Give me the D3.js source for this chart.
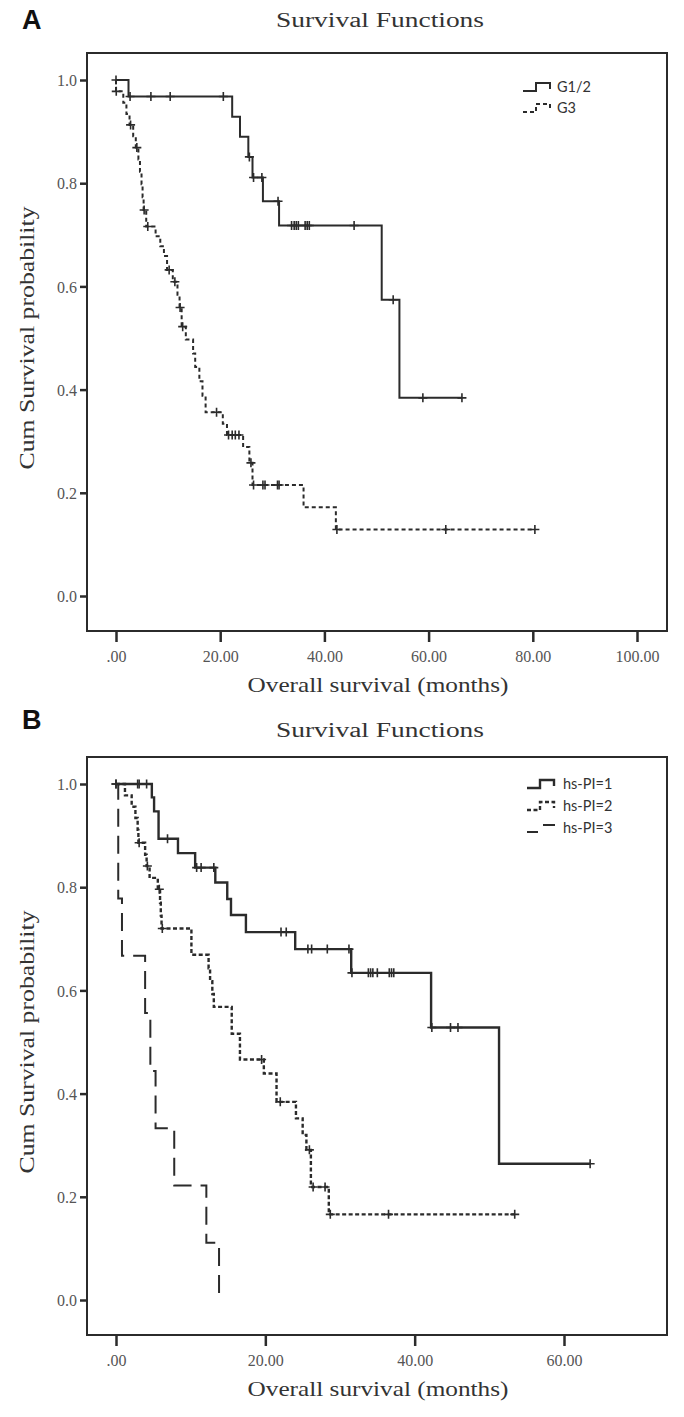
<!DOCTYPE html>
<html><head><meta charset="utf-8">
<script src="https://cdn.jsdelivr.net/npm/d3@7"></script>
<style>html,body{margin:0;padding:0;background:#fff;}svg{display:block;}</style>
</head><body>
<script>
// ---------- DATA ----------
// Panel A
const titleText = "Survival Functions";
const xTitleText = "Overall survival (months)";
const yTitleText = "Cum Survival probability";
const yTickValues = [0, 0.2, 0.4, 0.6, 0.8, 1.0];
const yTickLabels = ["0.0", "0.2", "0.4", "0.6", "0.8", "1.0"];

const xTicksA = [0, 20, 40, 60, 80, 100];
const xTickLabelsA = [".00", "20.00", "40.00", "60.00", "80.00", "100.00"];
const seriesNamesA = ["G1/2", "G3"];

// G1/2: step times and survival after each step, censor times
const g12Times = [2.4, 22.3, 23.8, 25.4, 26.2, 28.2, 31.3, 51.0, 54.4];
const g12Surv  = [0.968, 0.929, 0.890, 0.851, 0.811, 0.765, 0.718, 0.574, 0.384];
const g12Cens  = [0.0, 2.7, 6.7, 10.4, 20.6, 25.6, 26.4, 28.0, 31.1, 33.7, 34.2, 34.6, 35.0, 36.3, 36.7, 37.1, 45.7, 53.2, 58.9, 66.4];

// G3
const g3Times = [0.0, 1.4, 2.0, 2.6, 3.3, 3.8, 4.3, 4.6, 4.9, 5.1, 5.3, 5.8, 7.6, 8.5, 9.2, 9.8, 10.9, 11.8, 12.2, 12.6, 13.4, 14.8, 15.2, 16.0, 16.6, 17.2, 20.5, 21.3, 24.4, 25.6, 26.2, 36.0, 42.2];
const g3Surv  = [0.978, 0.956, 0.934, 0.913, 0.891, 0.869, 0.846, 0.822, 0.798, 0.773, 0.748, 0.716, 0.697, 0.678, 0.659, 0.632, 0.609, 0.584, 0.559, 0.522, 0.497, 0.470, 0.444, 0.416, 0.388, 0.356, 0.334, 0.312, 0.289, 0.258, 0.215, 0.172, 0.129];
const g3Cens  = [0.05, 2.8, 4.0, 5.4, 6.1, 10.2, 11.3, 12.3, 12.8, 19.3, 21.6, 22.3, 22.9, 23.6, 25.9, 26.4, 28.2, 28.6, 31.0, 31.3, 42.4, 63.3, 80.4];

// Panel B
const xTicksB = [0, 20, 40, 60];
const xTickLabelsB = [".00", "20.00", "40.00", "60.00"];
const seriesNamesB = ["hs-PI=1", "hs-PI=2", "hs-PI=3"];

const pi1Times = [4.8, 5.1, 5.7, 8.3, 10.6, 13.3, 14.9, 15.4, 17.4, 24.0, 31.5, 42.2, 51.3];
const pi1Surv  = [0.974, 0.947, 0.894, 0.866, 0.838, 0.809, 0.777, 0.746, 0.713, 0.680, 0.634, 0.528, 0.264];
const pi1Cens  = [0.0, 2.9, 3.1, 4.1, 6.9, 10.8, 11.4, 13.1, 22.1, 22.8, 25.7, 26.2, 28.3, 31.2, 31.6, 33.8, 34.1, 34.4, 35.0, 36.6, 36.9, 37.2, 42.3, 44.8, 45.8, 63.5];

const pi2Times = [1.2, 2.1, 2.6, 2.9, 3.0, 3.9, 4.1, 4.5, 5.6, 5.9, 6.0, 6.1, 10.1, 12.4, 12.6, 12.9, 13.1, 15.5, 16.6, 19.8, 21.5, 24.1, 25.0, 25.5, 26.1, 28.5];
const pi2Surv  = [0.978, 0.956, 0.934, 0.911, 0.886, 0.863, 0.841, 0.818, 0.796, 0.770, 0.745, 0.720, 0.669, 0.643, 0.618, 0.593, 0.568, 0.516, 0.466, 0.439, 0.384, 0.352, 0.320, 0.291, 0.219, 0.166];
const pi2Cens  = [0.0, 3.1, 4.2, 5.8, 6.2, 19.5, 22.0, 25.9, 26.4, 28.0, 28.7, 36.5, 53.4];

const pi3Times = [0.3, 0.8, 3.9, 4.6, 5.3, 7.8, 12.1, 13.8];
const pi3Surv  = [0.778, 0.667, 0.556, 0.444, 0.333, 0.222, 0.111, 0.0];
const pi3Cens  = [];

// ---------- DRAW ----------
const W = 684, H = 1417;
const svg = d3.select("body").append("svg").attr("width", W).attr("height", H);
const serif = "'Liberation Serif', 'DejaVu Serif', serif";
const ink = "#2b2b2b";

function stepPoints(times, surv, cens) {
  const pts = [[0, 1]];
  times.forEach((t, i) => pts.push([t, surv[i]]));
  const last = Math.max(times[times.length - 1], cens.length ? d3.max(cens) : 0);
  pts.push([last, surv[surv.length - 1]]);
  return pts;
}
function survAt(times, surv, t) {
  let s = 1;
  times.forEach((tt, i) => { if (t >= tt) s = surv[i]; });
  return s;
}

function panel(cfg) {
  const oy = cfg.oy;
  const g = svg.append("g");
  const x = d3.scaleLinear().domain(cfg.xDomain).range(cfg.xRange);
  const y = d3.scaleLinear().domain([0, 1]).range([596 + oy, 80 + oy]);
  const frame = {x0: 87, x1: 667, y0: 53 + oy, y1: 631 + oy};

  // panel letter
  g.append("text").attr("x", 22).attr("y", 29 + oy + cfg.letterDy)
    .attr("font-family", "'Liberation Sans', Arial, sans-serif").attr("font-weight", "bold")
    .attr("font-size", 27).attr("fill", "#111").text(cfg.letter);
  // title
  g.append("text").attr("x", 380).attr("y", 27 + oy + cfg.titleDy).attr("text-anchor", "middle")
    .attr("font-family", serif).attr("font-size", 20).attr("fill", "#333")
    .attr("textLength", 208).attr("lengthAdjust", "spacingAndGlyphs").text(titleText);

  // frame
  g.append("rect").attr("x", frame.x0).attr("y", frame.y0)
    .attr("width", frame.x1 - frame.x0).attr("height", frame.y1 - frame.y0)
    .attr("fill", "none").attr("stroke", ink).attr("stroke-width", 2);

  // y axis
  const yAxis = d3.axisLeft(y).tickValues(yTickValues)
    .tickFormat((d, i) => yTickLabels[i]).tickSize(7).tickPadding(3);
  const ya = g.append("g").attr("transform", `translate(${frame.x0},0)`).call(yAxis);
  ya.select(".domain").remove();
  ya.selectAll(".tick line").attr("stroke", ink).attr("stroke-width", 2.5);
  ya.selectAll(".tick text").attr("font-family", serif).attr("font-size", 16)
    .attr("fill", "#555").attr("dy", "0.35em");

  // x axis
  const xAxis = d3.axisBottom(x).tickValues(cfg.xTicks)
    .tickFormat((d, i) => cfg.xTickLabels[i]).tickSize(11).tickPadding(9);
  const xa = g.append("g").attr("transform", `translate(0,${frame.y1})`).call(xAxis);
  xa.select(".domain").remove();
  xa.selectAll(".tick line").attr("stroke", ink).attr("stroke-width", 2.5);
  xa.selectAll(".tick text").attr("font-family", serif).attr("font-size", 16).attr("fill", "#555");

  // axis titles
  g.append("text").attr("x", 378).attr("y", 692 + oy).attr("text-anchor", "middle")
    .attr("font-family", serif).attr("font-size", 21).attr("fill", "#333")
    .attr("textLength", 261).attr("lengthAdjust", "spacingAndGlyphs").text(xTitleText);
  g.append("text").attr("transform", `translate(34,${338 + oy}) rotate(-90)`).attr("text-anchor", "middle")
    .attr("font-family", serif).attr("font-size", 21).attr("fill", "#333")
    .attr("textLength", 263).attr("lengthAdjust", "spacingAndGlyphs").text(yTitleText);

  // curves
  const line = d3.line().x(d => x(d[0])).y(d => y(d[1])).curve(d3.curveStepAfter);
  cfg.series.forEach(s => {
    const pts = stepPoints(s.times, s.surv, s.cens);
    g.append("path").attr("d", line(pts)).attr("fill", "none").attr("stroke", ink)
      .attr("stroke-width", s.width).attr("stroke-dasharray", s.dash);
    s.cens.forEach(t => {
      const cx = x(t), cy = y(survAt(s.times, s.surv, t));
      g.append("path").attr("d", `M${cx},${cy - 4.5}V${cy + 4.5}M${cx - 4.5},${cy}H${cx + 4.5}`)
        .attr("stroke", ink).attr("stroke-width", 1.6).attr("fill", "none");
    });
  });

  // legend
  cfg.legend.forEach((L, i) => {
    const ly = cfg.legendY + oy + i * cfg.legendGap;
    const lx = cfg.legendX;
    let d;
    if (L.kind === "long") d = `M${lx},${ly + 4}H${lx + 11}M${lx + 16},${ly - 3}H${lx + 28}`;
    else d = `M${lx},${ly + 4}H${lx + 13}V${ly - 4}H${lx + 27}V${ly + 2}`;
    g.append("path").attr("d", d).attr("fill", "none").attr("stroke", ink)
      .attr("stroke-width", L.width).attr("stroke-dasharray", L.kind === "long" ? null : L.dash);
    g.append("text").attr("x", lx + cfg.legendTextDx).attr("y", ly + 5)
      .attr("font-family", "Lato, 'Open Sans', sans-serif").attr("font-size", 14.5).attr("fill", "#333")
      .text(L.name);
  });
}

panel({
  oy: 0, letter: "A", letterDy: 0, titleDy: 0,
  xDomain: [0, 100], xRange: [116, 637], xTicks: xTicksA, xTickLabels: xTickLabelsA,
  series: [
    {times: g12Times, surv: g12Surv, cens: g12Cens, width: 2, dash: null},
    {times: g3Times, surv: g3Surv, cens: g3Cens, width: 2, dash: "4,3"}
  ],
  legend: [
    {name: seriesNamesA[0], width: 2, dash: null},
    {name: seriesNamesA[1], width: 2, dash: "4,3"}
  ],
  legendX: 523, legendY: 87, legendGap: 21, legendTextDx: 34
});

panel({
  oy: 704, letter: "B", letterDy: -4, titleDy: 6,
  xDomain: [0, 60], xRange: [116, 564], xTicks: xTicksB, xTickLabels: xTickLabelsB,
  series: [
    {times: pi1Times, surv: pi1Surv, cens: pi1Cens, width: 2.4, dash: null},
    {times: pi2Times, surv: pi2Surv, cens: pi2Cens, width: 2.4, dash: "4,2.5"},
    {times: pi3Times, surv: pi3Surv, cens: pi3Cens, width: 2, dash: "18,9"}
  ],
  legend: [
    {name: seriesNamesB[0], width: 2.4, dash: null, kind: "solid"},
    {name: seriesNamesB[1], width: 2.4, dash: "4,2.5", kind: "dash"},
    {name: seriesNamesB[2], width: 2, dash: null, kind: "long"}
  ],
  legendX: 527, legendY: 80, legendGap: 22, legendTextDx: 36
});
</script>
</body></html>
